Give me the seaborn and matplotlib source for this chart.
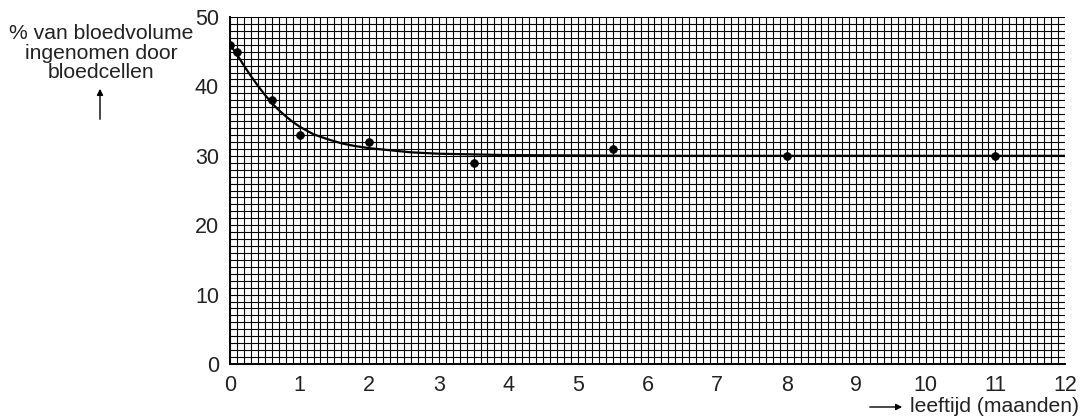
import matplotlib
matplotlib.use("Agg")
import matplotlib.pyplot as plt
import seaborn as sns
import pandas as pd

# measured points
age_months = [0, 0.1, 0.6, 1, 2, 3.5, 5.5, 8, 11]
cell_pct = [46, 45, 38, 33, 32, 29, 31, 30, 30]

# trend curve
curve_x = [0, 0.1, 0.2, 0.3, 0.4, 0.5, 0.6, 0.7, 0.8, 0.9, 1.0, 1.2, 1.4, 1.6,
           1.8, 2.0, 2.3, 2.6, 3.0, 3.5, 4.0, 5.0, 6.0, 8.0, 12.0]
curve_y = [46, 44.6, 43.0, 41.5, 40.1, 38.8, 37.6, 36.6, 35.7, 34.9, 34.2, 33.1,
           32.4, 31.8, 31.4, 31.1, 30.8, 30.5, 30.3, 30.2, 30.1, 30.05, 30.0,
           30.0, 30.0]

x_ticks = list(range(0, 13))
y_ticks = [0, 10, 20, 30, 40, 50]

sns.set_style("white")
plt.rcParams["font.family"] = ["Liberation Sans", "DejaVu Sans"]

fig = plt.figure(figsize=(10.81, 4.17), dpi=100)
ax = fig.add_axes([230 / 1081, (417 - 364) / 417, 835 / 1081, 347 / 417])

points = pd.DataFrame({"x": age_months, "y": cell_pct})
curve = pd.DataFrame({"x": curve_x, "y": curve_y})

sns.lineplot(data=curve, x="x", y="y", color="black", lw=1.6, ax=ax, zorder=3)
sns.scatterplot(data=points, x="x", y="y", color="black", s=32, ax=ax,
                zorder=4, edgecolor="black")

ax.set_xlim(0, 12)
ax.set_ylim(0, 50)
ax.set_xticks(x_ticks)
ax.set_xticks([i / 10 for i in range(0, 121)], minor=True)
ax.set_yticks(y_ticks)
ax.set_yticks(list(range(0, 51)), minor=True)
ax.grid(which="both", color="black", lw=0.8)
ax.set_axisbelow(True)

for side in ["top", "right"]:
    ax.spines[side].set_visible(False)
for side in ["left", "bottom"]:
    ax.spines[side].set_color("black")
    ax.spines[side].set_linewidth(1.4)

ax.tick_params(which="major", length=6, width=1.4, color="black",
               labelsize=15.5, direction="out", pad=2, labelcolor="#222222")
ax.tick_params(which="minor", length=0)
ax.set_xlabel("")
ax.set_ylabel("")

fig.text(101 / 1081, 1 - 24 / 417,
         "% van bloedvolume\ningenomen door\nbloedcellen",
         ha="center", va="top", fontsize=15.2, color="#222222", linespacing=1.05)
fig.add_artist(matplotlib.patches.FancyArrowPatch(
    (100 / 1081, 1 - 122 / 417), (100 / 1081, 1 - 86 / 417),
    transform=fig.transFigure, arrowstyle="-|>", mutation_scale=9,
    color="black", lw=1))
fig.add_artist(matplotlib.patches.FancyArrowPatch(
    (867 / 1081, 1 - 407 / 417), (905 / 1081, 1 - 407 / 417),
    transform=fig.transFigure, arrowstyle="-|>", mutation_scale=9,
    color="black", lw=1))
fig.text(910 / 1081, 1 - 406 / 417, "leeftijd (maanden)", ha="left",
         va="center", fontsize=15.2, color="#222222")

fig.savefig("out.png", dpi=100)
